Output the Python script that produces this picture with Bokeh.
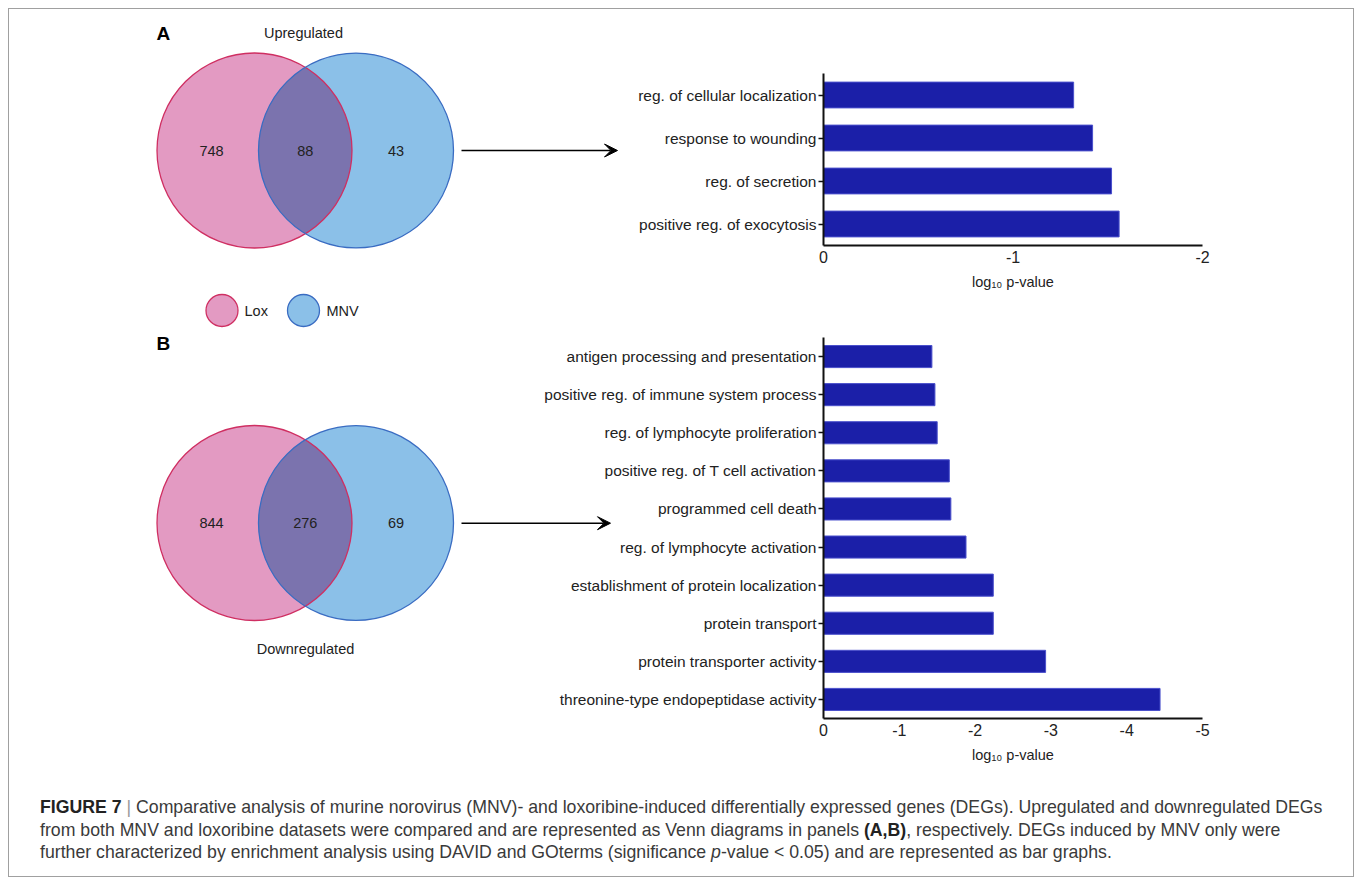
import numpy as np
from bokeh.plotting import figure
from bokeh.models import (Range1d, FactorRange, FixedTicker, Arrow, VeeHead, Div,
                          ColumnDataSource)
from bokeh.layouts import row, column
from bokeh.core.properties import value
from bokeh.embed import file_html
from bokeh.resources import INLINE

FONT = "Liberation Sans"

# ---------------- data ----------------
venn_up = {"lox_only": 748, "both": 88, "mnv_only": 43}
venn_down = {"lox_only": 844, "both": 276, "mnv_only": 69}

up_terms = ["reg. of cellular localization", "response to wounding",
            "reg. of secretion", "positive reg. of exocytosis"]
up_log10p = [-1.32, -1.42, -1.52, -1.56]

down_terms = ["antigen processing and presentation",
              "positive reg. of immune system process",
              "reg. of lymphocyte proliferation",
              "positive reg. of T cell activation",
              "programmed cell death",
              "reg. of lymphocyte activation",
              "establishment of protein localization",
              "protein transport",
              "protein transporter activity",
              "threonine-type endopeptidase activity"]
down_log10p = [-1.43, -1.47, -1.50, -1.66, -1.68, -1.88, -2.24, -2.24, -2.93, -4.44]

up_ticks = [0, -1, -2]
down_ticks = [0, -1, -2, -3, -4, -5]

PINK = "#e39ac2"
PINK_LINE = "#cf2f62"
BLUE = "#8bc0e8"
BLUE_LINE = "#3a6cc2"
LENS = "#7b73ae"
BAR = "#1b1fa8"

# ---------------- venn / annotation canvas (page pixel coordinates) ----------------
X0, X1, Y0, Y1 = 9, 625, 9, 770
vf = figure(width=X1 - X0, height=Y1 - Y0, x_range=Range1d(X0, X1), y_range=Range1d(Y1, Y0),
            x_axis_type=None, y_axis_type=None, toolbar_location=None,
            output_backend="svg", min_border=0)
vf.grid.visible = False
vf.outline_line_color = None
vf.background_fill_color = "white"
vf.border_fill_color = "white"

R = 97.5
CX1, CX2 = 254.0, 355.5


def lens(cy):
    d = CX2 - CX1
    th = np.arccos((d / 2) / R)
    t1 = np.linspace(-th, th, 60)
    t2 = np.linspace(np.pi - th, np.pi + th, 60)
    xs = np.concatenate([CX1 + R * np.cos(t1), CX2 + R * np.cos(t2)])
    ys = np.concatenate([cy + R * np.sin(t1), cy + R * np.sin(t2)])
    return xs, ys


def venn(cy, counts):
    vf.circle(x=[CX1], y=[cy], radius=R, fill_color=PINK, line_color=None)
    vf.circle(x=[CX2], y=[cy], radius=R, fill_color=BLUE, line_color=None)
    lx, ly = lens(cy)
    vf.patch(lx, ly, fill_color=LENS, line_color=None)
    vf.circle(x=[CX1], y=[cy], radius=R, fill_color=None, line_color=PINK_LINE, line_width=1.3)
    vf.circle(x=[CX2], y=[cy], radius=R, fill_color=None, line_color=BLUE_LINE, line_width=1.3)
    vf.text(x=[CX1 - 43, (CX1 + CX2) / 2, CX2 + 40], y=[cy, cy, cy],
            text=[str(counts["lox_only"]), str(counts["both"]), str(counts["mnv_only"])],
            text_font=value(FONT), text_font_size="14.5px", text_color="#222222",
            text_align="center", text_baseline="middle")


venn(150.0, venn_up)
venn(522.5, venn_down)

vf.text(x=[156, 156], y=[33, 343], text=["A", "B"], text_font=value(FONT),
        text_font_size="19px", text_font_style="bold", text_color="black",
        text_align="left", text_baseline="middle")
vf.text(x=[303, 305], y=[32, 648], text=["Upregulated", "Downregulated"], text_font=value(FONT),
        text_font_size="14.5px", text_color="#222222", text_align="center", text_baseline="middle")

# legend
vf.circle(x=[221.5], y=[310], radius=16, fill_color=PINK, line_color=PINK_LINE, line_width=1.3)
vf.circle(x=[303], y=[310], radius=16, fill_color=BLUE, line_color=BLUE_LINE, line_width=1.3)
vf.text(x=[244, 326], y=[310, 310], text=["Lox", "MNV"], text_font=value(FONT),
        text_font_size="14.5px", text_color="#222222", text_align="left", text_baseline="middle")

# arrows
for (xs, xe, y) in [(461, 617, 150), (461, 610, 522.7)]:
    vf.add_layout(Arrow(end=VeeHead(size=13, fill_color="black", line_color="black", line_width=1),
                        x_start=xs, y_start=y, x_end=xe, y_end=y,
                        line_color="black", line_width=1.4))


# ---------------- bar charts ----------------
def bar_chart(terms, vals, ticks, h, top, bottom, bar_h):
    src = ColumnDataSource(dict(term=terms, val=vals))
    p = figure(width=813, height=h, y_range=FactorRange(factors=terms[::-1]),
               x_range=Range1d(0, ticks[-1]), toolbar_location=None, output_backend="svg",
               min_border_left=283, min_border_right=151, min_border_top=top,
               min_border_bottom=bottom)
    p.hbar(y="term", left=0, right="val", height=bar_h, source=src,
           fill_color=BAR, line_color="#4a50cc", line_width=1)
    p.grid.visible = False
    p.outline_line_color = None
    p.background_fill_color = None
    p.border_fill_color = None
    p.xaxis.ticker = FixedTicker(ticks=ticks)
    p.xaxis.major_label_overrides = {t: str(t) for t in ticks}
    p.xaxis.axis_label = "log\u2081\u2080 p-value"
    p.xaxis.axis_label_text_font = FONT
    p.xaxis.axis_label_text_font_style = "normal"
    p.xaxis.axis_label_text_font_size = "14.5px"
    p.xaxis.axis_label_text_color = "#222222"
    p.xaxis.axis_label_standoff = 8
    p.xaxis.major_tick_out = 0
    p.xaxis.major_tick_in = 0
    p.xaxis.minor_tick_out = 0
    p.xaxis.minor_tick_in = 0
    p.xaxis.major_label_standoff = 5
    p.xaxis.major_label_text_font_size = "16px"
    p.yaxis.major_tick_out = 5
    p.yaxis.major_tick_in = 0
    p.yaxis.major_tick_line_width = 1.5
    p.yaxis.major_label_standoff = 2
    p.yaxis.major_label_text_font_size = "15.5px"
    for ax in (p.xaxis, p.yaxis):
        ax.axis_line_width = 2
        ax.axis_line_color = "#111111"
        ax.major_tick_line_color = "#111111"
        ax.major_label_text_font = FONT
        ax.major_label_text_color = "#222222"
    return p


pa = bar_chart(up_terms, up_log10p, up_ticks, 291, 64, 55, 0.6)
pb = bar_chart(down_terms, down_log10p, down_ticks, 470, 37, 52, 0.58)

bars = column(pa, pb, margin=(0, 0, 0, -85))

caption_html = (
    "<div style=\"font-family:'Liberation Sans',Arial,sans-serif;font-size:17.7px;"
    "line-height:22.5px;color:#3a3a3a;white-space:nowrap;padding:26px 0 0 31px;\">"
    "<b style='color:#222'>FIGURE 7</b> <span style='color:#999'>|</span> Comparative analysis of murine norovirus (MNV)- and "
    "loxoribine-induced differentially expressed genes (DEGs). Upregulated and downregulated DEGs<br>"
    "from both MNV and loxoribine datasets were compared and are represented as Venn diagrams in "
    "panels <b style='color:#222'>(A,B)</b>, respectively. DEGs induced by MNV only were<br>"
    "further characterized by enrichment analysis using DAVID and GOterms (significance "
    "<i>p</i>-value &lt; 0.05) and are represented as bar graphs.</div>"
)
caption = Div(text=caption_html, width=1344, height=106, margin=0)

page = column(row(vf, bars, margin=0), caption, margin=(8, 0, 0, 8),
              styles={"border": "1px solid #a0a0a0"})

open("out.html", "w").write(file_html(page, INLINE))
